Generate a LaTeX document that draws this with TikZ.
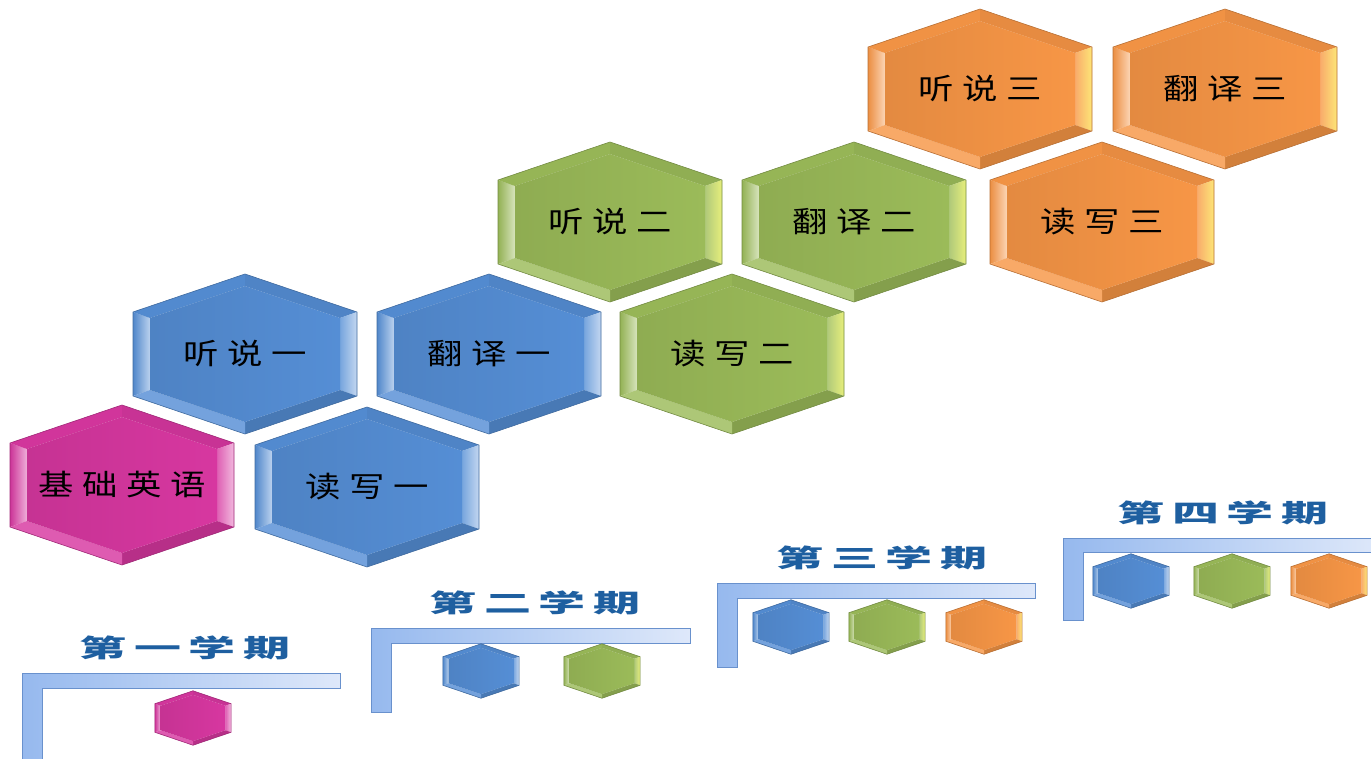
\documentclass[tikz,border=0pt]{standalone}
\usepackage{fontspec}
\newfontfamily\cjk{Noto Sans CJK SC}

\definecolor{pinkhex}{RGB}{215,55,160}
\definecolor{bluehex}{RGB}{85,142,213}
\definecolor{greenhex}{RGB}{155,187,89}
\definecolor{orangehex}{RGB}{247,150,70}
\definecolor{titleblue}{RGB}{30,95,160}
\definecolor{barline}{RGB}{105,145,205}
\definecolor{barleft}{RGB}{150,185,238}
\definecolor{barright}{RGB}{222,232,250}

% bevelled hexagon: centre x, centre y, size, colour, highlight colour
\newcommand{\hexa}[5]{%
\begin{scope}[shift={(#1,#2)}, scale=#3]
  \coordinate (o1) at (0,-80);   \coordinate (o2) at (112,-42);
  \coordinate (o3) at (112,42);  \coordinate (o4) at (0,80);
  \coordinate (o5) at (-112,42); \coordinate (o6) at (-112,-42);
  \coordinate (i1) at (0,-68);   \coordinate (i2) at (95,-36);
  \coordinate (i3) at (95,36);   \coordinate (i4) at (0,68);
  \coordinate (i5) at (-95,36);  \coordinate (i6) at (-95,-36);
  \fill[black!25, opacity=0.35, shift={(3,4)}]
        (o1) -- (o2) -- (o3) -- (o4) -- (o5) -- (o6) -- cycle;
  \shade[left color=#4!95!black, right color=#4!40!white]
        (o5) -- (o6) -- (i6) -- (i5) -- cycle;
  \fill[#4!97!black]  (o6) -- (o1) -- (i1) -- (i6) -- cycle;
  \fill[#4!93!black]  (o1) -- (o2) -- (i2) -- (i1) -- cycle;
  \shade[left color=#4!80!white, right color=#5]
        (o2) -- (o3) -- (i3) -- (i2) -- cycle;
  \fill[#4!85!black]  (o3) -- (o4) -- (i4) -- (i3) -- cycle;
  \fill[#4!82!white]  (o4) -- (o5) -- (i5) -- (i4) -- cycle;
  \shade[left color=#4!92!black, right color=#4]
        (i1) -- (i2) -- (i3) -- (i4) -- (i5) -- (i6) -- cycle;
  \draw[#4!75!black, line width=0.6pt]
        (o1) -- (o2) -- (o3) -- (o4) -- (o5) -- (o6) -- cycle;
\end{scope}}

\tikzset{
  hexlabel/.style={font=\cjk\fontsize{29}{32}\selectfont\addfontfeature{LetterSpace=24},
    xscale=1.22, transform shape, inner sep=0pt},
  termtitle/.style={font=\cjk\bfseries\fontsize{25}{28}\selectfont\addfontfeature{LetterSpace=16},
    text=titleblue, xscale=1.88, transform shape, inner sep=0pt},
  bracket/.style={draw=barline, line width=1pt, left color=barleft, right color=barright}
}

\begin{document}
\begin{tikzpicture}[x=1pt, y=-1pt]
\useasboundingbox (0,0) rectangle (1371,758);
\clip (0,0) rectangle (1371,758);

% course hexagons
\hexa{122}{485}{1}{pinkhex}{pinkhex!35!white}
\hexa{367}{487}{1}{bluehex}{bluehex!35!white}
\hexa{245}{354}{1}{bluehex}{bluehex!35!white}
\hexa{489}{354}{1}{bluehex}{bluehex!35!white}
\hexa{732}{354}{1}{greenhex}{greenhex!40!yellow!60!white}
\hexa{610}{222}{1}{greenhex}{greenhex!40!yellow!60!white}
\hexa{854}{222}{1}{greenhex}{greenhex!40!yellow!60!white}
\hexa{1102}{222}{1}{orangehex}{orangehex!40!yellow!60!white}
\hexa{980}{89}{1}{orangehex}{orangehex!40!yellow!60!white}
\hexa{1225}{89}{1}{orangehex}{orangehex!40!yellow!60!white}

\node[hexlabel] (jcyy) at (122,485) {基础英语};
\node[hexlabel] (dx1)  at (367,487) {读写一};
\node[hexlabel] (ts1)  at (245,354) {听说一};
\node[hexlabel] (fy1)  at (489,354) {翻译一};
\node[hexlabel] (dx2)  at (732,354) {读写二};
\node[hexlabel] (ts2)  at (610,222) {听说二};
\node[hexlabel] (fy2)  at (854,222) {翻译二};
\node[hexlabel] (dx3)  at (1102,222) {读写三};
\node[hexlabel] (ts3)  at (980,89) {听说三};
\node[hexlabel] (fy3)  at (1225,89) {翻译三};

% terms
\draw[bracket] (22,762) -- (22,673) -- (340,673) -- (340,688) -- (42,688) -- (42,762) -- cycle;
\draw[bracket] (371,712) -- (371,628) -- (690,628) -- (690,643) -- (391,643) -- (391,712) -- cycle;
\draw[bracket] (717,667) -- (717,583) -- (1035,583) -- (1035,598) -- (737,598) -- (737,667) -- cycle;
\draw[bracket] (1063,620) -- (1063,538) -- (1380,538) -- (1380,552) -- (1083,552) -- (1083,620) -- cycle;

\node[termtitle] (term1) at (185,648) {第一学期};
\node[termtitle] (term2) at (535,603) {第二学期};
\node[termtitle] (term3) at (882,558) {第三学期};
\node[termtitle] (term4) at (1223,513) {第四学期};

\hexa{193}{718}{0.34}{pinkhex}{pinkhex!35!white}
\hexa{481}{671}{0.34}{bluehex}{bluehex!35!white}
\hexa{602}{671}{0.34}{greenhex}{greenhex!40!yellow!60!white}
\hexa{791}{627}{0.34}{bluehex}{bluehex!35!white}
\hexa{887}{627}{0.34}{greenhex}{greenhex!40!yellow!60!white}
\hexa{984}{627}{0.34}{orangehex}{orangehex!40!yellow!60!white}
\hexa{1131}{581}{0.34}{bluehex}{bluehex!35!white}
\hexa{1232}{581}{0.34}{greenhex}{greenhex!40!yellow!60!white}
\hexa{1329}{581}{0.34}{orangehex}{orangehex!40!yellow!60!white}

\end{tikzpicture}
\end{document}
